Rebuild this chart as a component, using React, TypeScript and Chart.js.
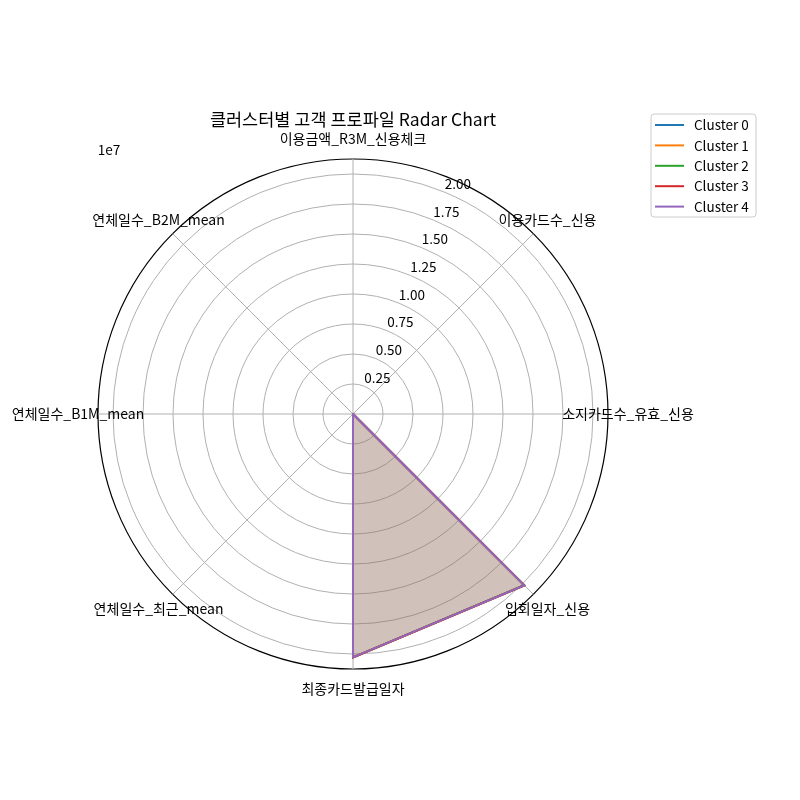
import React, { useEffect, useRef } from "react";
import { Chart, registerables } from "chart.js";

Chart.register(...registerables);

const TITLE = "클러스터별 고객 프로파일 Radar Chart";
const categories = [
  "이용금액_R3M_신용체크",
  "이용카드수_신용",
  "소지카드수_유효_신용",
  "입회일자_신용",
  "최종카드발급일자",
  "연체일수_최근_mean",
  "연체일수_B1M_mean",
  "연체일수_B2M_mean",
];
const clusterNames = ["Cluster 0", "Cluster 1", "Cluster 2", "Cluster 3", "Cluster 4"];
const cluster0 = [52000, 1.2, 1.5, 20186000, 20281000, 0.3, 0.2, 0.1];
const cluster1 = [61000, 1.4, 1.7, 20191000, 20283000, 0.5, 0.4, 0.2];
const cluster2 = [48000, 1.1, 1.3, 20183000, 20279000, 0.2, 0.1, 0.1];
const cluster3 = [57000, 1.3, 1.6, 20189000, 20282000, 1.8, 1.2, 0.9];
const cluster4 = [55000, 1.2, 1.4, 20188000, 20280000, 0.4, 0.3, 0.2];
const clusterValues = [cluster0, cluster1, cluster2, cluster3, cluster4];
const colors = ["#1f77b4", "#ff7f0e", "#2ca02c", "#d62728", "#9467bd"];
const R_MAX = 2.125e7;
const tickValues = [0, 2.5e6, 5e6, 7.5e6, 1e7, 1.25e7, 1.5e7, 1.75e7, 2e7];
const tickLabels = ["", "0.25", "0.50", "0.75", "1.00", "1.25", "1.50", "1.75", "2.00"];
const OFFSET_LABEL = "1e7";
const FONT = "'Noto Sans CJK KR', 'Noto Sans', sans-serif";

function hexA(hex: string, a: number) {
  const n = parseInt(hex.slice(1), 16);
  return `rgba(${(n >> 16) & 255},${(n >> 8) & 255},${n & 255},${a})`;
}

const overlay = {
  id: "mplOverlay",
  afterDraw(chart: any) {
    const ctx = chart.ctx;
    const scale = chart.scales.r;
    ctx.save();
    ctx.fillStyle = "#000";
    ctx.textAlign = "center";
    ctx.textBaseline = "middle";
    ctx.font = `17.5px ${FONT}`;
    ctx.fillText(TITLE, scale.xCenter, 119);
    ctx.font = `14px ${FONT}`;
    categories.forEach((c, i) => {
      const p = scale.getPointPosition(i, scale.drawingArea + 20);
      ctx.fillText(c, p.x, p.y);
    });
    ctx.font = `13.5px ${FONT}`;
    const ang = (22.5 * Math.PI) / 180;
    tickValues.forEach((v, i) => {
      if (!tickLabels[i]) return;
      const d = scale.getDistanceFromCenterForValue(v);
      const x = scale.xCenter + d * Math.sin(ang) + 13;
      const y = scale.yCenter - d * Math.cos(ang) - 8.5;
      ctx.fillText(tickLabels[i], x, y);
    });
    ctx.fillText(OFFSET_LABEL, 109, 150);
    // legend
    const lx = 651, ly = 114, lw = 105, lh = 103;
    ctx.beginPath();
    const rr = 3;
    ctx.moveTo(lx + rr, ly);
    ctx.arcTo(lx + lw, ly, lx + lw, ly + lh, rr);
    ctx.arcTo(lx + lw, ly + lh, lx, ly + lh, rr);
    ctx.arcTo(lx, ly + lh, lx, ly, rr);
    ctx.arcTo(lx, ly, lx + lw, ly, rr);
    ctx.closePath();
    ctx.fillStyle = "rgba(255,255,255,0.8)";
    ctx.fill();
    ctx.strokeStyle = "#cccccc";
    ctx.lineWidth = 1;
    ctx.stroke();
    ctx.textAlign = "left";
    clusterNames.forEach((n, i) => {
      const y = 125 + i * 20.4;
      ctx.strokeStyle = colors[i];
      ctx.lineWidth = 2;
      ctx.beginPath();
      ctx.moveTo(655, y);
      ctx.lineTo(684, y);
      ctx.stroke();
      ctx.fillStyle = "#000";
      ctx.fillText(n, 694, y);
    });
    ctx.restore();
  },
};

export default function App() {
  const ref = useRef<HTMLCanvasElement>(null);
  useEffect(() => {
    if (!ref.current) return;
    const chart = new Chart(ref.current, {
      type: "radar",
      data: {
        labels: categories,
        datasets: clusterValues.map((vals, i) => ({
          label: clusterNames[i],
          data: vals,
          borderColor: colors[i],
          backgroundColor: hexA(colors[i], 0.1),
          borderWidth: 2,
          fill: true,
          pointRadius: 0,
          pointHoverRadius: 0,
          tension: 0,
          order: -i,
        })),
      },
      options: {
        responsive: false,
        animation: false,
        devicePixelRatio: 1,
        layout: { padding: { left: 98, top: 159, right: 192, bottom: 131 } },
        plugins: { legend: { display: false }, tooltip: { enabled: false }, title: { display: false } },
        scales: {
          r: {
            min: 0,
            max: R_MAX,
            startAngle: 0,
            afterBuildTicks: (s: any) => {
              s.ticks = [...tickValues, R_MAX].map((v) => ({ value: v }));
            },
            ticks: { display: false },
            pointLabels: { display: false },
            grid: {
              circular: true,
              color: (c: any) => (c.tick && c.tick.value >= R_MAX ? "#000000" : "#b0b0b0"),
              lineWidth: (c: any) => (c.tick && c.tick.value >= R_MAX ? 1.2 : 1),
            },
            angleLines: { color: "#b0b0b0", lineWidth: 1 },
          },
        },
      },
      plugins: [overlay],
    } as any);
    return () => chart.destroy();
  }, []);
  return (
    <div style={{ position: "absolute", left: 0, top: 0, width: 800, height: 800 }}>
      <canvas ref={ref} width={800} height={800} style={{ width: 800, height: 800 }} />
    </div>
  );
}
